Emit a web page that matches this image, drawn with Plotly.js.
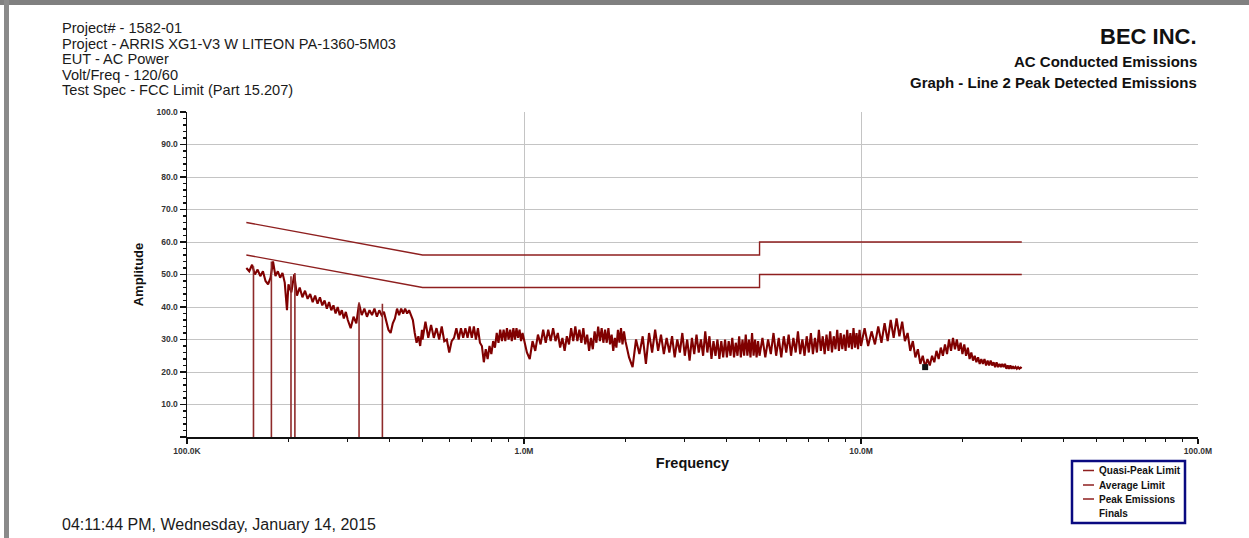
<!DOCTYPE html>
<html><head><meta charset="utf-8">
<script src="https://cdn.plot.ly/plotly-3.0.1.min.js"></script>
<style>
html,body{margin:0;padding:0;background:#fff;}
#wrap{position:relative;width:1249px;height:538px;overflow:hidden;}
#chart{width:1249px;height:538px;}
.bt{position:absolute;left:0;top:0;width:1249px;height:5px;background:#808080;}
.bl{position:absolute;left:4px;top:0;width:5px;height:538px;background:#8a8a8a;}
</style></head><body>
<div id="wrap"><div id="chart"></div><div class="bt"></div><div class="bl"></div></div>
<script>
// Frequencies in MHz, amplitudes in dBuV
const qpFreq = [0.15, 0.5, 5, 5, 30];
const qpLimit = [66, 56, 56, 60, 60];
const avFreq = [0.15, 0.5, 5, 5, 30];
const avLimit = [56, 46, 46, 50, 50];

const peakFreq = [
 0.150,0.153,0.156,0.159,0.162,0.165,0.168,0.171,0.174,0.177,0.180,0.183,0.186,0.189,0.192,0.195,0.198,
 0.200,0.204,0.208,0.212,0.216,0.220,0.224,0.228,0.232,0.236,0.240,0.244,0.248,0.252,0.256,0.260,0.264,0.268,0.272,0.276,0.280,0.284,0.288,0.292,0.296,
 0.300,0.306,0.312,0.318,0.324,0.330,0.336,0.342,0.348,0.354,0.360,0.366,0.372,0.378,0.384,0.390,0.396,0.402,0.408,0.414,0.420,0.426,0.432,0.438,0.444,0.450,0.456,0.462,0.468,0.474,0.480,0.486,0.492,0.498,
 0.50,0.51,0.52,0.53,0.54,0.55,0.56,0.57,0.58,0.59,0.60,0.61,0.62,0.63,0.64,0.65,0.66,0.67,0.68,0.69,0.70,0.71,0.72,0.73,0.74,0.75,0.76,0.77,0.78,0.79,0.80,0.81,0.82,0.83,0.84,0.85,0.86,0.87,0.88,0.89,0.90,0.91,0.92,0.93,0.94,0.95,0.96,0.97,0.98,0.99,
 1.00,1.02,1.04,1.06,1.08,1.10,1.12,1.14,1.16,1.18,1.20,1.22,1.24,1.26,1.28,1.30,1.32,1.34,1.36,1.38,1.40,1.42,1.44,1.46,1.48,1.50,1.52,1.54,1.56,1.58,1.60,1.62,1.64,1.66,1.68,1.70,1.72,1.74,1.76,1.78,1.80,1.82,1.84,1.86,1.88,1.90,1.92,1.94,1.96,1.98,
 2.00,2.05,2.10,2.15,2.20,2.25,2.30,2.35,2.40,2.45,2.50,2.55,2.60,2.65,2.70,2.75,2.80,2.85,2.90,2.95,3.00,3.05,3.10,3.15,3.20,3.25,3.30,3.35,3.40,3.45,3.50,3.55,3.60,3.65,3.70,3.75,3.80,3.85,3.90,3.95,4.00,4.05,4.10,4.15,4.20,4.25,4.30,4.35,4.40,4.45,4.50,4.55,4.60,4.65,4.70,4.75,4.80,4.85,4.90,4.95,
 5.0,5.1,5.2,5.3,5.4,5.5,5.6,5.7,5.8,5.9,6.0,6.1,6.2,6.3,6.4,6.5,6.6,6.7,6.8,6.9,7.0,7.1,7.2,7.3,7.4,7.5,7.6,7.7,7.8,7.9,8.0,8.1,8.2,8.3,8.4,8.5,8.6,8.7,8.8,8.9,9.0,9.1,9.2,9.3,9.4,9.5,9.6,9.7,9.8,9.9,
 10.00,10.25,10.50,10.75,11.00,11.25,11.50,11.75,12.00,12.25,12.50,12.75,13.00,13.25,13.50,13.75,14.00,14.25,14.50,14.75,15.00,15.25,15.50,15.75,16.00,16.25,16.50,16.75,17.00,17.25,17.50,17.75,18.00,18.25,18.50,18.75,19.00,19.25,19.50,19.75,20.00,20.25,20.50,20.75,21.00,21.25,21.50,21.75,22.00,22.25,22.50,22.75,23.00,23.25,23.50,23.75,24.00,24.25,24.50,24.75,25.00,25.25,25.50,25.75,26.00,26.25,26.50,26.75,27.00,27.25,27.50,27.75,28.00,28.25,28.50,28.75,29.00,29.25,29.50,29.75,30.00
];
const peakAmp = [
 52,51,53,50,51.5,49.5,51,48,47,49,54,49.5,51,49,50.5,47.5,39,
 47,44.5,50,43.5,46,43,45,42.5,44,41.5,43.5,41,43,40.5,42,39.5,41.5,39,40.5,38,40,37.5,39,36.5,38.5,
 36,33.5,37,35,41,37.5,39.5,37,39,37.5,39.5,37,39,37.5,38.5,36,33,32,35,36.5,39.5,37.5,39.5,38,39.5,38,39,37.5,36,32,29,31,28,33,
 30,35.5,30.5,34.5,30.5,33.5,30,34,29.5,30,26,29.5,30.5,33.5,30,33.5,30.5,33.5,30.5,34,30.5,34,30,33.5,29,28,23,27,24,28,25.5,29.5,27.5,32,29,33,29.5,33,29.5,33.5,30,33,29.5,33.5,30,33.5,30.5,33,29.5,32,
 30,26,24,29.5,26.5,31.5,28.5,33,29,33,29.5,33.5,29.5,32,27.5,30.5,26.5,31,28.5,33.5,29.5,34,29.5,33,29,33.5,28.5,31.5,26.5,30.5,27,32.5,29,34,29.5,33.5,29,33,29,33.5,28.5,31.5,26.5,30.5,27.5,33,29,33.5,28.5,32.5,
 29.5,24.5,21.5,30,25.5,31,22.5,32,26,33,26.5,31.5,25.5,30.5,26,31,24.5,30,26,32,25,30,23.5,30.5,25.5,31.5,26,30,25,32.5,26,31,24,29.5,25,30,24,29.5,24.5,30,24.5,29.5,25,30.5,24.5,29,25,31,24.5,30,25,31.5,25,30,24.5,32,25,30,24.5,29.5,
 25,30.5,24.5,30,25.5,32,25,30.5,24.5,31,26,31.5,25,30.5,26,32.5,25.5,30,25,31,26,32,25.5,30.5,26,33,26.5,31,25.5,31.5,26.5,32.5,26,31,27,33,26.5,32,27,31.5,26.5,33,27.5,32,27,33.5,27.5,32,27,33,
 28,33.5,28,32.5,28.5,34,29,35,29.5,36,30.5,36.5,31,35.5,29.5,32,26.5,29.5,24.5,27,22.5,25,21.5,24,22,25,23,26.5,24,27.5,25,28.5,25.5,30,26.5,30.5,27,30,26.5,29,25.5,28.5,25,27.5,24,26,23.5,25,23,24.5,22.5,24,22.5,24,22,23.5,22,23.5,22,23,21.5,23,21.5,22.5,21.5,22.5,21.5,22.5,21,22,21,22,21,21.8,21,21.6,21,21.5,21,21.4,21.2
];

const finalsFreq = [0.1575, 0.178, 0.2035, 0.209, 0.324, 0.380];
const finalsAmp = [52.5, 54, 49.5, 50.5, 41.5, 41];

const markerFreq = [15.5];
const markerAmp = [21.5];

const xTickLabels = {'0.1':'100.0K','1':'1.0M','10':'10.0M','100':'100.0M'};
const legendNames = ['Quasi-Peak Limit','Average Limit','Peak Emissions','Finals'];

const headerLeft = ['Project# - 1582-01','Project - ARRIS XG1-V3 W LITEON PA-1360-5M03','EUT - AC Power','Volt/Freq - 120/60','Test Spec - FCC Limit (Part 15.207)'];
const headerRight = ['BEC INC.','AC Conducted Emissions','Graph - Line 2 Peak Detected Emissions'];
const footer = '04:11:44 PM, Wednesday, January 14, 2015';

// finals stems
const fx = [], fy = [];
finalsFreq.forEach((f,i)=>{ fx.push(f,f,null); fy.push(0,finalsAmp[i],null); });

const RED = '#800000', LIM = '#8e1f1f';
const traces = [
 {x:qpFreq, y:qpLimit, mode:'lines', name:legendNames[0], line:{color:LIM, width:1.4}},
 {x:avFreq, y:avLimit, mode:'lines', name:legendNames[1], line:{color:LIM, width:1.4}},
 {x:peakFreq, y:peakAmp, mode:'lines', name:legendNames[2], line:{color:RED, width:2.1}},
 {x:fx, y:fy, mode:'lines', name:legendNames[3], line:{color:'#8e2a2a', width:1.6}},
 {x:markerFreq, y:markerAmp, mode:'markers', name:'marker', marker:{symbol:'square', size:6, color:'#111'}}
];

const L0=187, R0=1198, T0=112, B0=437;
const px = x => (x-L0)/(R0-L0);
const py = y => (B0-y)/(B0-T0);
const FONT = 'Liberation Sans, Arial, sans-serif';

const ann = [];
const leftY = [28.5,44,59.5,75,90.5];
headerLeft.forEach((t,i)=>ann.push({text:t, xref:'paper', yref:'paper', x:px(60), y:py(leftY[i]), xanchor:'left', yanchor:'middle', showarrow:false, font:{family:FONT, size:14.6, color:'#1a1a1a'}}));
const rightY = [36.5,61.5,82.5];
const rightS = [22,15,15];
headerRight.forEach((t,i)=>ann.push({text:t, xref:'paper', yref:'paper', x:px(1199), y:py(rightY[i]), xanchor:'right', yanchor:'middle', showarrow:false, font:{family:FONT, size:rightS[i], color:'#111', weight:'bold'}}));
ann.push({text:footer, xref:'paper', yref:'paper', x:px(60), y:py(524), xanchor:'left', yanchor:'middle', showarrow:false, font:{family:FONT, size:16, color:'#1a1a1a'}});

// legend box drawn like the original software's
const shapes = [
 {type:'rect', xref:'paper', yref:'paper', x0:px(1072), x1:px(1185), y0:py(461), y1:py(523), line:{color:'#0a0a80', width:2.5}, fillcolor:'#fff', layer:'above'}
];
const legY = [470.5, 485, 499, 513.5];
[0,1,2].forEach(i=>shapes.push({type:'line', xref:'paper', yref:'paper', x0:px(1083), x1:px(1094), y0:py(legY[i]), y1:py(legY[i]), line:{color:LIM, width:1.5}, layer:'above'}));
legendNames.forEach((t,i)=>ann.push({text:t, xref:'paper', yref:'paper', x:px(1097), y:py(legY[i]), xanchor:'left', yanchor:'middle', showarrow:false, font:{family:FONT, size:10, color:'#111', weight:'bold'}}));

const tickFont = {family:FONT, size:8.5, color:'#333', weight:'bold'};

const layout = {
 width:1249, height:538,
 margin:{l:187, r:51, t:112, b:101, autoexpand:false},
 paper_bgcolor:'#fff', plot_bgcolor:'#fff',
 showlegend:false,
 xaxis:{type:'log', range:[-1,2], tickmode:'linear', tick0:0, dtick:1, labelalias:xTickLabels,
   showgrid:true, gridcolor:'#c4c4c4', gridwidth:1, zeroline:false,
   showline:true, linecolor:'#111', linewidth:1.5,
   ticks:'outside', ticklen:5, tickwidth:1.3, tickcolor:'#111',
   minor:{ticks:'outside', ticklen:3, tickwidth:1.2, tickcolor:'#111', dtick:'D1', showgrid:false},
   tickfont:tickFont,
   title:{text:'Frequency', font:{family:FONT, size:14.5, color:'#111', weight:'bold'}, standoff:3}},
 yaxis:{range:[0,100], tickmode:'linear', tick0:0, dtick:10, tickformat:'.1f', labelalias:{'0.0':' '},
   showgrid:true, gridcolor:'#c4c4c4', gridwidth:1, zeroline:false,
   showline:true, linecolor:'#111', linewidth:1.5,
   ticks:'outside', ticklen:6, tickwidth:1.3, tickcolor:'#111',
   minor:{ticks:'outside', ticklen:3, tickwidth:1.2, tickcolor:'#111', dtick:2, showgrid:false},
   tickfont:tickFont,
   title:{text:'Amplitude', font:{family:FONT, size:13, color:'#111', weight:'bold'}, standoff:10}},
 xaxis2:{type:'log', range:[-1,2], overlaying:'x', anchor:'y', side:'bottom', tickmode:'linear', tick0:0, dtick:1,
   showticklabels:false, showgrid:false, zeroline:false, showline:false,
   ticks:'inside', ticklen:5, tickwidth:1.3, tickcolor:'#111',
   minor:{ticks:'inside', ticklen:3, tickwidth:1.2, tickcolor:'#111', dtick:'D1', showgrid:false}},
 yaxis2:{range:[0,100], overlaying:'y', anchor:'x', side:'left', tickmode:'linear', tick0:0, dtick:10,
   showticklabels:false, showgrid:false, zeroline:false, showline:false,
   ticks:'inside', ticklen:6, tickwidth:1.3, tickcolor:'#111',
   minor:{ticks:'inside', ticklen:3, tickwidth:1.2, tickcolor:'#111', dtick:2, showgrid:false}},
 annotations:ann,
 shapes:shapes
};

Plotly.newPlot('chart', traces, layout, {displayModeBar:false, staticPlot:true});
</script>
</body></html>
